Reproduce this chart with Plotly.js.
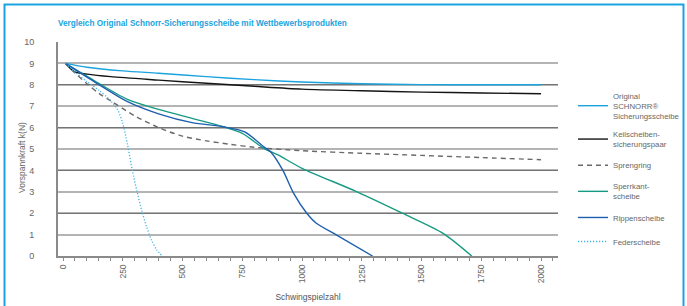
<!DOCTYPE html>
<html><head><meta charset="utf-8">
<script src="https://cdn.plot.ly/plotly-3.0.1.min.js"></script>
<style>html,body{margin:0;padding:0;background:#fff}#c{width:687px;height:306px}</style>
</head><body><div id="c"></div>
<script>
// Data
const names = ["Original<br>SCHNORR®<br>Sicherungsscheibe","Keilscheiben-<br>sicherungspaar","Sprengring","Sperrkant-<br>scheibe","Rippenscheibe","Federscheibe"];

const origX = [10, 100, 250, 400, 600, 800, 1000, 1250, 1500, 1750, 2000];
const origY = [9.0, 8.82, 8.65, 8.54, 8.38, 8.24, 8.13, 8.05, 8.01, 8.0, 8.0];

const keilX = [10, 50, 100, 200, 400, 600, 800, 1000, 1250, 1500, 1750, 2000];
const keilY = [9.0, 8.6, 8.5, 8.38, 8.22, 8.07, 7.93, 7.8, 7.72, 7.66, 7.62, 7.58];

const sprengX = [10, 50, 100, 150, 200, 300, 400, 500, 600, 700, 800, 1000, 1250, 1500, 1750, 2000];
const sprengY = [9.0, 8.55, 8.05, 7.6, 7.25, 6.55, 6.0, 5.6, 5.38, 5.22, 5.08, 4.92, 4.8, 4.7, 4.6, 4.5];

const sperrX = [10, 130, 270, 400, 540, 670, 750, 840, 900, 1000, 1230, 1420, 1590, 1710];
const sperrY = [9.0, 8.2, 7.32, 6.85, 6.43, 6.04, 5.73, 5.03, 4.72, 4.1, 3.0, 2.0, 1.06, 0.0];

const rippX = [10, 130, 270, 400, 540, 670, 760, 840, 870, 920, 965, 1020, 1060, 1145, 1295];
const rippY = [9.0, 8.15, 7.21, 6.64, 6.23, 6.04, 5.8, 5.1, 4.85, 4.0, 2.93, 2.0, 1.53, 0.98, 0.0];

const federX = [10, 50, 100, 150, 200, 230, 250, 270, 290, 310, 330, 350, 370, 390, 415];
const federY = [9.0, 8.6, 8.15, 7.75, 7.25, 6.8, 6.2, 5.2, 4.0, 3.0, 2.1, 1.35, 0.75, 0.32, 0.0];

const xTicks = [0, 250, 500, 750, 1000, 1250, 1500, 1750, 2000];
const yTicks = [0, 1, 2, 3, 4, 5, 6, 7, 8, 9, 10];
const yTicksDark = [2, 4, 6, 8, 10];

const FONT = '"Liberation Sans", Arial, sans-serif';

function tr(x, y, i, color, dash, width) {
  return {x: x, y: y, name: names[i], type: 'scatter', mode: 'lines',
    legendgroup: 'g' + i,
    line: {color: color, width: width || 1.4, dash: dash || 'solid', shape: 'spline', smoothing: 0.8}};
}

const data = [
  tr(origX, origY, 0, '#1ba3de'),
  tr(keilX, keilY, 1, '#151515'),
  tr(sprengX, sprengY, 2, '#6a6a6a', '5px,4px'),
  tr(sperrX, sperrY, 3, '#169a84'),
  tr(rippX, rippY, 4, '#1d5fae'),
  tr(federX, federY, 5, '#3fb5e8', '1.2px,1.8px', 1.3),
  {x: [0], y: [0], yaxis: 'y2', type: 'scatter', mode: 'none', showlegend: false, hoverinfo: 'skip'}
];

const layout = {
  width: 687, height: 306,
  paper_bgcolor: '#fff', plot_bgcolor: '#fff',
  margin: {l: 58, r: 129, t: 42, b: 50, autoexpand: false},
  font: {family: FONT, size: 9, color: '#555'},
  title: {text: 'Vergleich Original Schnorr-Sicherungsscheibe mit Wettbewerbsprodukten',
    font: {family: FONT, size: 8.2, color: '#1ba3de', weight: 'bold'},
    x: 58/687, xanchor: 'left', xref: 'container', y: 1 - 23/306, yanchor: 'middle', yref: 'container'},
  xaxis: {range: [-21, 2071], tickvals: xTicks, ticktext: xTicks.map(String),
    tickangle: -90, showgrid: false, zeroline: false, automargin: false,
    showline: true, linecolor: '#8a8a8a', linewidth: 2,
    ticks: 'outside', ticklen: 3, tickcolor: '#8a8a8a', tickwidth: 1,
    minor: {dtick: 50, tick0: 0, ticks: 'outside', ticklen: 3, tickcolor: '#8a8a8a', showgrid: false},
    tickfont: {family: FONT, size: 8.5, color: '#666'},
    title: {text: 'Schwingspielzahl', font: {family: FONT, size: 8.5, color: '#555'}, standoff: 12}},
  yaxis: {range: [0, 10], tickvals: yTicks, ticktext: yTicks.map(String),
    showgrid: true, gridcolor: '#b4b4b4', gridwidth: 2, zeroline: false, automargin: false,
    showline: true, linecolor: '#8a8a8a', linewidth: 2,
    ticks: '', ticklabelstandoff: 20,
    tickfont: {family: FONT, size: 9, color: '#666'}},
  yaxis2: {range: [0, 10], overlaying: 'y', side: 'left', tickvals: yTicksDark, automargin: false,
    showticklabels: false, showgrid: true, gridcolor: '#747474', gridwidth: 1,
    zeroline: false, showline: false, ticks: ''},
  annotations: [{text: 'Vorspannkraft k(N)', textangle: -90, showarrow: false,
    xref: 'paper', yref: 'paper', x: (22-58)/500, y: (256-158)/214,
    xanchor: 'center', yanchor: 'middle', font: {family: FONT, size: 8.5, color: '#666'}}],
  showlegend: true,
  legend: {x: 1.03, xanchor: 'left', y: (256-84)/214, yanchor: 'top',
    font: {family: FONT, size: 7.8, color: '#666'},
    tracegroupgap: 5, valign: 'middle', bgcolor: 'rgba(0,0,0,0)'},
  shapes: [{type: 'rect', xref: 'paper', yref: 'paper',
    x0: (4.5-58)/500, x1: (683.5-58)/500, y0: (256-320)/214, y1: (256-4.5)/214,
    line: {color: '#1ba3de', width: 2}, fillcolor: 'rgba(0,0,0,0)', layer: 'below'}]
};

Plotly.newPlot('c', data, layout, {staticPlot: true, displayModeBar: false});
</script></body></html>
